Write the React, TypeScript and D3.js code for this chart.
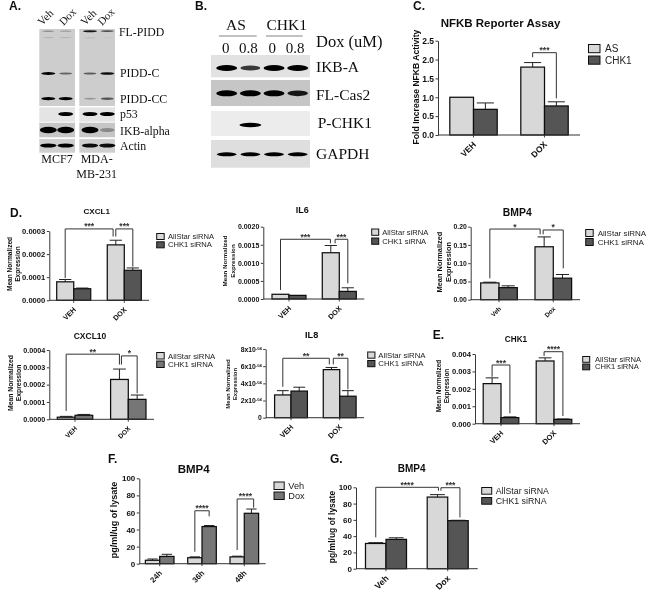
import React, { useEffect, useRef } from "react";
import * as d3 from "d3";

const sans = "'Liberation Sans', Arial, sans-serif";
const serif = "'Liberation Serif', 'Times New Roman', serif";

// ---------- values ----------
const capsUpper = ["VEH", "DOX"];
const capsMixed = ["Veh", "Dox"];
const hours = ["24h", "36h", "48h"];
const siLegend = ["AllStar siRNA", "CHK1 siRNA"];

const nfkbAs = [1, 1.8];
const nfkbAsErr = [0, 0.12];
const nfkbChk = [0.68, 0.77];
const nfkbChkErr = [0.17, 0.11];
const nfkbTicks = [0, 0.5, 1, 1.5, 2, 2.5];

const cxcl1As = [0.00008, 0.00024];
const cxcl1AsErr = [0.00001, 0.00002];
const cxcl1Chk = [0.00005, 0.00013];
const cxcl1ChkErr = [0.000003, 0.00001];
const cxcl1Ticks = [0, 0.0001, 0.0002, 0.0003];

const il6As = [0.00013, 0.00128];
const il6AsErr = [0, 0.0002];
const il6Chk = [0.0001, 0.00021];
const il6ChkErr = [0, 0.0001];
const il6Ticks = [0, 0.0005, 0.001, 0.0015, 0.002];

const bmp4As = [0.046, 0.145];
const bmp4AsErr = [0.002, 0.027];
const bmp4Chk = [0.033, 0.059];
const bmp4ChkErr = [0.005, 0.01];
const bmp4Ticks = [0, 0.05, 0.1, 0.15, 0.2];

const cxcl10As = [0.000012, 0.00023];
const cxcl10AsErr = [0.000005, 0.00006];
const cxcl10Chk = [0.000023, 0.000115];
const cxcl10ChkErr = [0.000005, 0.000025];
const cxcl10Ticks = [0, 0.0001, 0.0002, 0.0003, 0.0004];

const il8As = [0.000265, 0.00056];
const il8AsErr = [0.00005, 0.000025];
const il8Chk = [0.00031, 0.00025];
const il8ChkErr = [0.000045, 0.000065];
const il8Ticks = [0, 0.0002, 0.0004, 0.0006, 0.0008];

const chk1As = [0.0023, 0.0036];
const chk1AsErr = [0.00033, 0.00018];
const chk1Chk = [0.00035, 0.00025];
const chk1ChkErr = [0.00004, 0.00002];
const chk1Ticks = [0, 0.001, 0.002, 0.003, 0.004];

const timeVeh = [4, 7, 8];
const timeVehErr = [1.5, 1, 0.8];
const timeDox = [8.5, 43.5, 59];
const timeDoxErr = [2.5, 1.2, 5];
const timeTicks = [0, 20, 40, 60, 80, 100];

const lysateAs = [31, 88];
const lysateAsErr = [1, 3];
const lysateChk = [36, 59];
const lysateChkErr = [2, 0.5];
const lysateTicks = [0, 20, 40, 60, 80, 100];

// band darkness per lane for the two blot panels
const blotALabels = ["FL-PIDD", "PIDD-C", "PIDD-CC", "p53", "IKB-alpha", "Actin"];
const flPidd = [0.3, 0.25, 0.9, 0.6];
const flPiddLower = [0.15, 0.15, 0.1, 0.05];
const piddC = [1, 0.5, 0.55, 0.95];
const piddCC = [1, 1, 0.25, 0.6];
const p53 = [0, 1, 1, 1];
const ikbAlpha = [1, 1, 1, 0.3];
const actin = [1, 1, 0.95, 0.95];

const ikbA = [1, 0.75, 1, 1];
const flCas2 = [1, 1, 1, 0.9];
const pChk1 = [0, 1, 0, 0];
const gapdh = [1, 1, 1, 1];

// ---------- layout of the panels ----------
type Bracket = { a: [number, number]; b: [number, number]; dxA?: number; dxB?: number; top: number; footA: number; footB: number; label: string };
type Panel = {
  title: string; titleX: number; titleY: number; titleSize: number;
  cats: string[]; series: number[][]; errs: number[][]; colors: string[]; legend: string[];
  ticks: number[]; fmt: (v: number) => string; tickSize: number; superscript?: boolean;
  left: number; right: number; y0: number; yTop: number; centers: number[]; bw: number;
  brackets: Bracket[];
  yLabel: string[]; yLabelX: number[]; yLabelY: number; yLabelSize: number;
  legX: number; legY: number[]; legBW: number; legBH: number; legTextX: number; legSize: number;
  catSize: number;
};

const light = "#d8d8d8";
const dark = "#555555";
const mid = "#767676";
const f4 = d3.format(".4f");
const mnLabel = ["Mean Normalized", "Expression"];

const panels: Panel[] = [
  {
    title: "NFKB Reporter Assay", titleX: 500.5, titleY: 27, titleSize: 11.5,
    cats: capsUpper, series: [nfkbAs, nfkbChk], errs: [nfkbAsErr, nfkbChkErr], colors: [light, dark], legend: ["AS", "CHK1"],
    ticks: nfkbTicks, fmt: d3.format(".1f"), tickSize: 8.5,
    left: 438, right: 580, y0: 135, yTop: 40.7, centers: [473.5, 544.5], bw: 23.7,
    brackets: [{ a: [1, 0], b: [1, 1], top: 0.873, footA: 0.824, footB: 0.388, label: "***" }],
    yLabel: ["Fold Increase NFKB Activity"], yLabelX: [419], yLabelY: 87, yLabelSize: 8.6,
    legX: 588.5, legY: [44.5, 56], legBW: 11.5, legBH: 8.2, legTextX: 605, legSize: 10, catSize: 8.5,
  },
  {
    title: "CXCL1", titleX: 96.7, titleY: 214, titleSize: 8.1,
    cats: capsUpper, series: [cxcl1As, cxcl1Chk], errs: [cxcl1AsErr, cxcl1ChkErr], colors: [light, dark], legend: siLegend,
    ticks: cxcl1Ticks, fmt: f4, tickSize: 7.6,
    left: 49.3, right: 149, y0: 300.3, yTop: 231, centers: [73.7, 124.3], bw: 17,
    brackets: [
      { a: [0, 0], b: [1, 0], dxB: -2.7, top: 1.03, footA: 0.32, footB: 0.92, label: "***" },
      { a: [1, 0], b: [1, 1], top: 1.03, footA: 0.92, footB: 0.485, label: "***" },
    ],
    yLabel: mnLabel, yLabelX: [12, 19.5], yLabelY: 264, yLabelSize: 6.6,
    legX: 156.7, legY: [233.5, 241.8], legBW: 7.5, legBH: 6, legTextX: 168, legSize: 7.6, catSize: 7.2,
  },
  {
    title: "IL6", titleX: 302.3, titleY: 213, titleSize: 9,
    cats: capsUpper, series: [il6As, il6Chk], errs: [il6AsErr, il6ChkErr], colors: [light, dark], legend: siLegend,
    ticks: il6Ticks, fmt: f4, tickSize: 7,
    left: 263.3, right: 364.3, y0: 299, yTop: 226.7, centers: [289, 339.3], bw: 17,
    brackets: [
      { a: [0, 0], b: [1, 0], dxB: -0.4, top: 0.826, footA: 0.125, footB: 0.77, label: "***" },
      { a: [1, 0], b: [1, 1], dxA: 4.3, top: 0.826, footA: 0.77, footB: 0.217, label: "***" },
    ],
    yLabel: mnLabel, yLabelX: [227, 235], yLabelY: 261, yLabelSize: 6.2,
    legX: 371.7, legY: [229, 238], legBW: 7, legBH: 6.3, legTextX: 382.3, legSize: 7.6, catSize: 7.2,
  },
  {
    title: "BMP4", titleX: 517.3, titleY: 215.5, titleSize: 10.4,
    cats: capsMixed, series: [bmp4As, bmp4Chk], errs: [bmp4AsErr, bmp4ChkErr], colors: [light, dark], legend: siLegend,
    ticks: bmp4Ticks, fmt: d3.format(".2f"), tickSize: 6.8,
    left: 470.7, right: 580, y0: 299.7, yTop: 226.7, centers: [499, 553.3], bw: 18.3,
    brackets: [
      { a: [0, 0], b: [1, 0], dxB: -4, top: 0.968, footA: 0.293, footB: 0.896, label: "*" },
      { a: [1, 0], b: [1, 1], dxA: -1, dxB: 0.8, top: 0.955, footA: 0.896, footB: 0.43, label: "*" },
    ],
    yLabel: mnLabel, yLabelX: [441.5, 450.5], yLabelY: 262, yLabelSize: 7.4,
    legX: 585.7, legY: [229.5, 238.5], legBW: 7.5, legBH: 7, legTextX: 597.7, legSize: 8, catSize: 6.4,
  },
  {
    title: "CXCL10", titleX: 90, titleY: 339, titleSize: 8.5,
    cats: capsUpper, series: [cxcl10As, cxcl10Chk], errs: [cxcl10AsErr, cxcl10ChkErr], colors: [light, mid], legend: siLegend,
    ticks: cxcl10Ticks, fmt: f4, tickSize: 7.2,
    left: 49.3, right: 154, y0: 419.3, yTop: 350, centers: [75, 128.3], bw: 17.7,
    brackets: [
      { a: [0, 0], b: [1, 0], top: 0.94, footA: 0.12, footB: 0.79, label: "**" },
      { a: [1, 0], b: [1, 1], dxA: 2, top: 0.915, footA: 0.79, footB: 0.375, label: "*" },
    ],
    yLabel: mnLabel, yLabelX: [13, 21], yLabelY: 383, yLabelSize: 6.8,
    legX: 156.7, legY: [352.5, 361], legBW: 7.5, legBH: 6.5, legTextX: 168, legSize: 7.8, catSize: 6.6,
  },
  {
    title: "IL8", titleX: 311.7, titleY: 338, titleSize: 9.2,
    cats: capsUpper, series: [il8As, il8Chk], errs: [il8AsErr, il8ChkErr], colors: [light, dark], legend: siLegend,
    ticks: il8Ticks, fmt: (v) => (v === 0 ? "0" : `${Math.round(v * 1e4)}x10`), tickSize: 6.8, superscript: true,
    left: 265.7, right: 364, y0: 417.7, yTop: 349, centers: [291, 339.7], bw: 16.4,
    brackets: [
      { a: [0, 0], b: [1, 0], dxB: -2.2, top: 0.865, footA: 0.45, footB: 0.776, label: "**" },
      { a: [1, 0], b: [1, 1], dxA: 1.8, top: 0.865, footA: 0.776, footB: 0.413, label: "**" },
    ],
    yLabel: mnLabel, yLabelX: [230, 237], yLabelY: 384, yLabelSize: 6,
    legX: 367.7, legY: [352, 360.5], legBW: 7.2, legBH: 6.2, legTextX: 378.3, legSize: 7.8, catSize: 7.5,
  },
  {
    title: "CHK1", titleX: 516, titleY: 341.7, titleSize: 8.2,
    cats: capsUpper, series: [chk1As, chk1Chk], errs: [chk1AsErr, chk1ChkErr], colors: [light, dark], legend: siLegend,
    ticks: chk1Ticks, fmt: d3.format(".3f"), tickSize: 7.6,
    left: 475, right: 580, y0: 423.7, yTop: 354, centers: [501, 554], bw: 17.8,
    brackets: [
      { a: [0, 0], b: [0, 1], top: 0.842, footA: 0.674, footB: 0.149, label: "***" },
      { a: [1, 0], b: [1, 1], dxA: -1, top: 1.033, footA: 0.971, footB: 0.11, label: "****" },
    ],
    yLabel: mnLabel, yLabelX: [441, 449], yLabelY: 386, yLabelSize: 6.4,
    legX: 582.7, legY: [356.5, 364], legBW: 7, legBH: 5.8, legTextX: 595, legSize: 7.6, catSize: 7.5,
  },
  {
    title: "BMP4", titleX: 193.7, titleY: 473, titleSize: 11.5,
    cats: hours, series: [timeVeh, timeDox], errs: [timeVehErr, timeDoxErr], colors: [light, mid], legend: capsMixed,
    ticks: timeTicks, fmt: d3.format("d"), tickSize: 8,
    left: 139.3, right: 265.7, y0: 563.7, yTop: 478.3, centers: [159.7, 202, 244.3], bw: 14.3,
    brackets: [
      { a: [1, 0], b: [1, 1], top: 0.62, footA: 0.14, footB: 0.555, label: "****" },
      { a: [2, 0], b: [2, 1], dxB: 2.2, top: 0.758, footA: 0.16, footB: 0.656, label: "****" },
    ],
    yLabel: ["pg/ml/ug of lysate"], yLabelX: [117], yLabelY: 520, yLabelSize: 9,
    legX: 274, legY: [482, 492], legBW: 10.2, legBH: 7.5, legTextX: 288.3, legSize: 9.2, catSize: 7.8,
  },
  {
    title: "BMP4", titleX: 411.7, titleY: 471.7, titleSize: 10,
    cats: capsMixed, series: [lysateAs, lysateChk], errs: [lysateAsErr, lysateChkErr], colors: [light, dark], legend: siLegend,
    ticks: lysateTicks, fmt: d3.format("d"), tickSize: 8,
    left: 356, right: 477.7, y0: 568.7, yTop: 487.3, centers: [386, 447.7], bw: 20.5,
    brackets: [
      { a: [0, 0], b: [1, 0], dxB: 1, top: 1.0, footA: 0.385, footB: 0.958, label: "****" },
      { a: [1, 0], b: [1, 1], dxA: 3.5, dxB: 2, top: 0.995, footA: 0.958, footB: 0.63, label: "***" },
    ],
    yLabel: ["pg/ml/ug of lysate"], yLabelX: [335], yLabelY: 527, yLabelSize: 8.5,
    legX: 481.7, legY: [487.5, 497.5], legBW: 10, legBH: 6.7, legTextX: 495.7, legSize: 8.8, catSize: 8.6,
  },
];

const letters: [string, number, number][] = [
  ["A.", 9, 10], ["B.", 195, 10], ["C.", 413, 10], ["D.", 10, 217],
  ["E.", 432.7, 339], ["F.", 108, 463], ["G.", 330, 463],
];

type Strip = { bg: string; x0: number; x1: number; y0: number; y1: number };
type BandRow = { values: number[]; lanes: number[]; y: number; w: number; h: number };

const laneA = d3.scalePoint<number>().domain([0, 1]).range([48.3, 65.7]);
const laneAm = d3.scalePoint<number>().domain([0, 1]).range([90, 107.3]);
const lanesA = [laneA(0)!, laneA(1)!, laneAm(0)!, laneAm(1)!];
const laneB = d3.scalePoint<number>().domain([0, 1, 2, 3]).range([226.7, 297.7]);
const lanesB = [0, 1, 2, 3].map((i) => laneB(i)!);

const stripsA: Strip[] = [
  [29, 106, "#cdcdcd"], [107.3, 121.7, "#e4e4e4"], [122.7, 137.3, "#c6c6c6"], [139, 152.7, "#cfcfcf"],
].flatMap(([a, b, c]) => [
  { bg: c as string, x0: 39.3, x1: 75, y0: a as number, y1: b as number },
  { bg: c as string, x0: 79.3, x1: 115, y0: a as number, y1: b as number },
]);
const stripsB: Strip[] = [
  { bg: "#e2e2e2", x0: 211, x1: 310, y0: 55, y1: 77.3 },
  { bg: "#c6c6c6", x0: 211, x1: 310, y0: 80, y1: 106 },
  { bg: "#ececec", x0: 211, x1: 310, y0: 111, y1: 136 },
  { bg: "#dedede", x0: 211, x1: 310, y0: 140, y1: 167.7 },
];
const bandsRows: BandRow[] = [
  { values: flPidd, lanes: lanesA, y: 31.2, w: 14, h: 2.2 },
  { values: flPiddLower, lanes: lanesA, y: 37.7, w: 14, h: 2 },
  { values: piddC, lanes: lanesA, y: 73.5, w: 14, h: 2.8 },
  { values: piddCC, lanes: lanesA, y: 98.7, w: 14, h: 3.2 },
  { values: p53, lanes: lanesA, y: 114, w: 15, h: 4.2 },
  { values: ikbAlpha, lanes: lanesA, y: 130, w: 17, h: 6.5 },
  { values: actin, lanes: lanesA, y: 145.5, w: 16.5, h: 4 },
  { values: ikbA, lanes: lanesB, y: 68, w: 21, h: 6 },
  { values: flCas2, lanes: lanesB, y: 93.3, w: 21, h: 6 },
  { values: pChk1, lanes: lanesB, y: 125, w: 22, h: 4.5 },
  { values: gapdh, lanes: lanesB, y: 154.3, w: 20, h: 4 },
];

const blotALabelX = [119, 120, 120, 120, 120, 120];
const blotALabelY = [35.7, 76.7, 103.3, 118.3, 135, 150];
const blotAHead: [string, number, number][] = [["Veh", 42, 26], ["Dox", 63.5, 26], ["Veh", 85, 26], ["Dox", 102, 26]];
const blotACells: [string, number, number][] = [["MCF7", 57, 163.3], ["MDA-", 96.7, 163.3], ["MB-231", 96.7, 178.3]];
const blotBLabels: [string, number, number][] = [
  ["IKB-A", 316, 71.7], ["FL-Cas2", 316, 100], ["P-CHK1", 317.7, 128.3], ["GAPDH", 316, 159.3],
];
const doseLabels = ["0", "0.8", "0", "0.8"];
const doseX = [225.7, 248.3, 272.3, 295];

export default function App() {
  const ref = useRef<SVGSVGElement>(null);

  useEffect(() => {
    const svg = d3.select(ref.current!);
    svg.selectAll("*").remove();
    const defs = svg.append("defs");
    defs.append("filter").attr("id", "soft").attr("x", "-5%").attr("y", "-5%").attr("width", "110%").attr("height", "110%")
      .append("feGaussianBlur").attr("stdDeviation", 0.3);
    defs.append("filter").attr("id", "band").attr("x", "-30%").attr("y", "-100%").attr("width", "160%").attr("height", "300%")
      .append("feGaussianBlur").attr("stdDeviation", 0.5);
    const root = svg.append("g").attr("filter", "url(#soft)");

    const tx = (sel: d3.Selection<any, any, any, any>, s: string, x: number, y: number, size: number, opts: any = {}) =>
      sel.append("text").attr("x", x).attr("y", y).attr("font-size", size)
        .attr("font-family", opts.family ?? sans).attr("font-weight", opts.weight ?? "normal")
        .attr("text-anchor", opts.anchor ?? "start").attr("fill", opts.fill ?? "#111").text(s);

    letters.forEach(([s, x, y]) => tx(root, s, x, y, 12, { weight: "bold" }));

    // blots
    const blots = root.append("g");
    [...stripsA, ...stripsB].forEach((s) =>
      blots.append("rect").attr("x", s.x0).attr("y", s.y0).attr("width", s.x1 - s.x0).attr("height", s.y1 - s.y0).attr("fill", s.bg));
    const op = d3.scaleLinear().domain([0, 1]).range([0, 1]);
    const bandG = blots.append("g").attr("filter", "url(#band)");
    bandsRows.forEach((row) =>
      row.values.forEach((v, i) => {
        if (v <= 0) return;
        bandG.append("ellipse").attr("cx", row.lanes[i]).attr("cy", row.y)
          .attr("rx", (row.w / 2) * (0.8 + 0.2 * v)).attr("ry", (row.h / 2) * (0.45 + 0.55 * v))
          .attr("fill", "#050505").attr("opacity", op(v));
      }));
    blotALabels.forEach((s, i) => tx(root, s, blotALabelX[i], blotALabelY[i], 11.8, { family: serif }));
    blotAHead.forEach(([s, x, y]) =>
      tx(root, s, x, y, 11, { family: serif }).attr("transform", `rotate(-45 ${x} ${y})`));
    blotACells.forEach(([s, x, y]) => tx(root, s, x, y, 12, { family: serif, anchor: "middle" }));
    blotBLabels.forEach(([s, x, y]) => tx(root, s, x, y, 15.5, { family: serif }));
    tx(root, "AS", 236, 30, 15.5, { family: serif, anchor: "middle" });
    tx(root, "CHK1", 286.7, 30, 15.5, { family: serif, anchor: "middle" });
    tx(root, "Dox (uM)", 316, 47.3, 16.5, { family: serif });
    doseLabels.forEach((s, i) => tx(root, s, doseX[i], 53.3, 15, { family: serif, anchor: "middle" }));
    [[219, 256.7], [266, 302.7]].forEach(([a, b]) =>
      root.append("line").attr("x1", a).attr("x2", b).attr("y1", 36).attr("y2", 36).attr("stroke", "#777").attr("stroke-width", 0.9));

    // bar panels
    panels.forEach((p) => {
      const g = root.append("g");
      const max = d3.max(p.ticks)!;
      const y = d3.scaleLinear().domain([0, max]).range([p.y0, p.yTop]);
      const barX = (gi: number, si: number) => {
        const n = p.series.length;
        return p.centers[gi] + (si - n / 2) * p.bw;
      };

      tx(g, p.title, p.titleX, p.titleY, p.titleSize, { weight: "bold", anchor: "middle" });

      p.series.forEach((vals, si) =>
        vals.forEach((v, gi) => {
          const x = barX(gi, si);
          const cx = x + p.bw / 2;
          const e = p.errs[si][gi];
          if (e > 0) {
            g.append("line").attr("x1", cx).attr("x2", cx).attr("y1", y(v)).attr("y2", y(v + e)).attr("stroke", "#222").attr("stroke-width", 1);
            g.append("line").attr("x1", cx - p.bw * 0.36).attr("x2", cx + p.bw * 0.36).attr("y1", y(v + e)).attr("y2", y(v + e)).attr("stroke", "#222").attr("stroke-width", 1);
          }
          g.append("rect").attr("x", x).attr("y", y(v)).attr("width", p.bw).attr("height", p.y0 - y(v))
            .attr("fill", p.colors[si]).attr("stroke", "#111").attr("stroke-width", 1.25);
        }));

      const axisG = g.append("g").attr("transform", `translate(${p.left},0)`)
        .call(d3.axisLeft(y).tickValues(p.ticks).tickFormat((d: any) => p.fmt(+d)).tickSize(2.5).tickPadding(1.5).tickSizeOuter(0));
      axisG.selectAll("path,line").attr("stroke", "#222").attr("stroke-width", 0.9);
      axisG.selectAll("text").attr("font-family", sans).attr("font-weight", "bold").attr("font-size", p.tickSize).attr("fill", "#111");
      if (p.superscript) {
        axisG.selectAll<SVGTextElement, number>("text").each(function (d) {
          if (d !== 0) d3.select(this).append("tspan").attr("dy", -2).attr("font-size", p.tickSize * 0.6).text("-04");
        });
      }

      g.append("line").attr("x1", p.left).attr("x2", p.right).attr("y1", p.y0).attr("y2", p.y0).attr("stroke", "#333").attr("stroke-width", 1);
      p.cats.forEach((c, i) => {
        g.append("line").attr("x1", p.centers[i]).attr("x2", p.centers[i]).attr("y1", p.y0).attr("y2", p.y0 + 2.5).attr("stroke", "#333").attr("stroke-width", 0.9);
        g.append("text").attr("transform", `translate(${p.centers[i] + 1},${p.y0 + 8}) rotate(-45)`)
          .attr("dy", "0.35em").attr("text-anchor", "end").attr("font-family", sans).attr("font-weight", "bold")
          .attr("font-size", p.catSize).attr("fill", "#111").text(c);
      });

      p.brackets.forEach((b) => {
        const xa = barX(b.a[0], b.a[1]) + p.bw / 2 + (b.dxA ?? 0);
        const xb = barX(b.b[0], b.b[1]) + p.bw / 2 + (b.dxB ?? 0);
        const yTop = y(b.top * max);
        const path = d3.line()([[xa, y(b.footA * max)], [xa, yTop], [xb, yTop], [xb, y(b.footB * max)]]);
        g.append("path").attr("d", path).attr("fill", "none").attr("stroke", "#333").attr("stroke-width", 1);
        tx(g, b.label, (xa + xb) / 2, yTop + 0.5, 8.5, { weight: "bold", anchor: "middle", fill: "#333" });
      });

      p.yLabel.forEach((s, i) => {
        const lx = p.yLabelX[i];
        tx(g, s, lx, p.yLabelY, p.yLabelSize, { weight: "bold", anchor: "middle" })
          .attr("transform", `rotate(-90 ${lx} ${p.yLabelY})`);
      });

      p.legend.forEach((s, i) => {
        g.append("rect").attr("x", p.legX).attr("y", p.legY[i]).attr("width", p.legBW).attr("height", p.legBH)
          .attr("fill", p.colors[i]).attr("stroke", "#111").attr("stroke-width", 1);
        tx(g, s, p.legTextX, p.legY[i] + p.legBH - 0.5, p.legSize, { fill: "#222" });
      });
    });
  }, []);

  return (
    <svg ref={ref} width={650} height={592} viewBox="0 0 650 592"
      style={{ position: "absolute", left: 0, top: 0, background: "#fff" }} />
  );
}
